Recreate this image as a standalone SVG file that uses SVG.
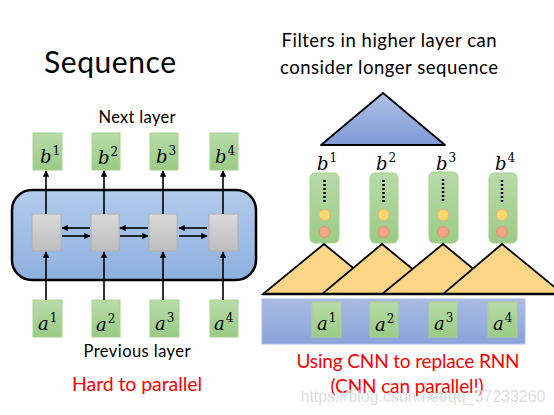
<svg xmlns="http://www.w3.org/2000/svg" width="554" height="415" viewBox="0 0 554 415">
<defs>
<linearGradient id="gGreen" x1="0" y1="0" x2="0" y2="1"><stop offset="0" stop-color="#b9dba9"/><stop offset="1" stop-color="#9acb84"/></linearGradient>
<linearGradient id="gBlue" x1="0" y1="0" x2="0" y2="1"><stop offset="0" stop-color="#b3cbec"/><stop offset="1" stop-color="#8db0e0"/></linearGradient>
<linearGradient id="gBlue2" x1="0" y1="0" x2="0" y2="1"><stop offset="0" stop-color="#aabbe3"/><stop offset="1" stop-color="#8aa3da"/></linearGradient>
<linearGradient id="gTri" x1="0" y1="0" x2="0" y2="1"><stop offset="0" stop-color="#b0c0e6"/><stop offset="1" stop-color="#7e99d6"/></linearGradient>
<linearGradient id="gGray" x1="0" y1="0" x2="0" y2="1"><stop offset="0" stop-color="#dadada"/><stop offset="1" stop-color="#bdbdbd"/></linearGradient>
<marker id="ah" viewBox="0 0 10 10" refX="9" refY="5" markerWidth="4" markerHeight="4" orient="auto"><path d="M0,0 L10,5 L0,10 z" fill="#000"/></marker>
</defs>
<style>
.t{font-family:Lato,"Open Sans","Liberation Sans",sans-serif;fill:#000}
.red{fill:#ff0000}
.m{font-family:"DejaVu Serif","Liberation Serif",serif;font-style:italic;font-size:18px}
.sup{font-family:"DejaVu Serif","Liberation Serif",serif;font-size:12px}
.gb{fill:url(#gGreen);stroke:#a9d18e;stroke-width:1}
.cell{fill:url(#gGray);stroke:#b0b0b0;stroke-width:1}
.ln{stroke:#000;stroke-width:1.6;fill:none}
.orange{fill:#fdd587;stroke:#000;stroke-width:1.8}
.yc{fill:#ffd966;stroke:#f4b183;stroke-width:1}
.oc{fill:#f4a582;stroke:#e8907a;stroke-width:1}
.dots{stroke:#000;stroke-width:2.5;stroke-dasharray:2 2}
</style>

<text class="t" x="110" y="73" font-size="30" text-anchor="middle" textLength="132">Sequence</text>
<text class="t" x="137" y="123" font-size="16.5" text-anchor="middle" textLength="77">Next layer</text>
<text class="t" x="137" y="357" font-size="16.5" text-anchor="middle" textLength="107">Previous layer</text>
<text class="t red" x="137" y="391" font-size="19.5" text-anchor="middle" textLength="130">Hard to parallel</text>

<g id="rnn-block"><rect x="12" y="190" width="244" height="90" rx="20" fill="url(#gBlue)" stroke="#000" stroke-width="2.5"/></g>

<g id="b-left">
<rect class="gb" x="33" y="133" width="29" height="37"/><text x="40" y="163"><tspan class="m">b</tspan><tspan class="sup" dx="1" dy="-8">1</tspan></text>
<rect class="gb" x="92" y="133" width="28" height="37"/><text x="98" y="164"><tspan class="m">b</tspan><tspan class="sup" dx="1" dy="-8">2</tspan></text>
<rect class="gb" x="150" y="133" width="28" height="37"/><text x="156" y="163"><tspan class="m">b</tspan><tspan class="sup" dx="1" dy="-8">3</tspan></text>
<rect class="gb" x="210" y="133" width="28" height="37"/><text x="215" y="163"><tspan class="m">b</tspan><tspan class="sup" dx="1" dy="-8">4</tspan></text>
</g>

<g id="cells">
<rect class="cell" x="32" y="214" width="29" height="37"/>
<rect class="cell" x="91" y="214" width="28" height="37"/>
<rect class="cell" x="149" y="214" width="28" height="37"/>
<rect class="cell" x="209" y="214" width="29" height="37"/>
</g>

<g id="a-left">
<rect class="gb" x="33" y="300" width="29" height="37"/><text x="38" y="330"><tspan class="m">a</tspan><tspan class="sup" dx="1" dy="-8">1</tspan></text>
<rect class="gb" x="92" y="300" width="28" height="37"/><text x="96" y="331"><tspan class="m">a</tspan><tspan class="sup" dx="1" dy="-8">2</tspan></text>
<rect class="gb" x="150" y="300" width="29" height="37"/><text x="155" y="330"><tspan class="m">a</tspan><tspan class="sup" dx="1" dy="-8">3</tspan></text>
<rect class="gb" x="210" y="300" width="28" height="37"/><text x="214" y="330"><tspan class="m">a</tspan><tspan class="sup" dx="1" dy="-8">4</tspan></text>
</g>

<g id="connectors">
<line class="ln" x1="46" y1="214" x2="46" y2="171" marker-end="url(#ah)"/>
<line class="ln" x1="104" y1="214" x2="104" y2="171" marker-end="url(#ah)"/>
<line class="ln" x1="163" y1="214" x2="163" y2="171" marker-end="url(#ah)"/>
<line class="ln" x1="223" y1="214" x2="223" y2="171" marker-end="url(#ah)"/>
<line class="ln" x1="46" y1="300" x2="46" y2="252" marker-end="url(#ah)"/>
<line class="ln" x1="104" y1="300" x2="104" y2="252" marker-end="url(#ah)"/>
<line class="ln" x1="163" y1="300" x2="163" y2="252" marker-end="url(#ah)"/>
<line class="ln" x1="223" y1="300" x2="223" y2="252" marker-end="url(#ah)"/>
<line class="ln" x1="90" y1="228" x2="62" y2="228" marker-end="url(#ah)"/>
<line class="ln" x1="62" y1="236" x2="90" y2="236" marker-end="url(#ah)"/>
<line class="ln" x1="148" y1="228" x2="120" y2="228" marker-end="url(#ah)"/>
<line class="ln" x1="120" y1="236" x2="148" y2="236" marker-end="url(#ah)"/>
<line class="ln" x1="207" y1="228" x2="179" y2="228" marker-end="url(#ah)"/>
<line class="ln" x1="179" y1="236" x2="207" y2="236" marker-end="url(#ah)"/>
</g>

<text class="t" x="389" y="47" font-size="18.5" text-anchor="middle" textLength="215">Filters in higher layer can</text>
<text class="t" x="389" y="74" font-size="18.5" text-anchor="middle" textLength="218">consider longer sequence</text>

<g id="top-filter"><polygon points="383,93 321,145 445,145" fill="url(#gTri)" stroke="#000" stroke-width="1.8" stroke-linejoin="round"/></g>

<g id="b-right">
<text x="317" y="170"><tspan class="m">b</tspan><tspan class="sup" dx="1" dy="-8">1</tspan></text>
<text x="376" y="170"><tspan class="m">b</tspan><tspan class="sup" dx="1" dy="-8">2</tspan></text>
<text x="436" y="170"><tspan class="m">b</tspan><tspan class="sup" dx="1" dy="-8">3</tspan></text>
<text x="495" y="170"><tspan class="m">b</tspan><tspan class="sup" dx="1" dy="-8">4</tspan></text>
</g>

<g id="col1"><rect class="gb" x="310" y="173" width="29" height="70" rx="5"/><line class="dots" x1="324.5" y1="180" x2="324.5" y2="202"/><circle class="yc" cx="324.5" cy="215" r="5.5"/><circle class="oc" cx="324.5" cy="232" r="5.5"/></g>
<g id="col2"><rect class="gb" x="370" y="173" width="28" height="70" rx="5"/><line class="dots" x1="383.5" y1="180" x2="383.5" y2="202"/><circle class="yc" cx="383.5" cy="215" r="5.5"/><circle class="oc" cx="383.5" cy="232" r="5.5"/></g>
<g id="col3"><rect class="gb" x="429" y="172" width="29" height="71" rx="5"/><line class="dots" x1="443" y1="179" x2="443" y2="201"/><circle class="yc" cx="443" cy="215" r="5.5"/><circle class="oc" cx="443" cy="232" r="5.5"/></g>
<g id="col4"><rect class="gb" x="489" y="173" width="28" height="70" rx="5"/><line class="dots" x1="502" y1="180" x2="502" y2="202"/><circle class="yc" cx="502" cy="215" r="5.5"/><circle class="oc" cx="502" cy="232" r="5.5"/></g>

<g id="filters">
<polygon class="orange" points="324,244 263,294 385,294"/>
<polygon class="orange" points="382,244 322,294 443,294"/>
<polygon class="orange" points="443,244 382,294 504,294"/>
<polygon class="orange" points="502,244 443,294 563,294"/>
<line x1="263" y1="294" x2="554" y2="294" stroke="#000" stroke-width="2.5"/>
</g>

<g id="input-seq">
<rect x="262" y="299" width="263" height="45" fill="url(#gBlue2)" stroke="#a9bce6" stroke-width="1"/>
<rect class="gb" x="312" y="302" width="29" height="35"/><text x="317" y="330"><tspan class="m">a</tspan><tspan class="sup" dx="1" dy="-8">1</tspan></text>
<rect class="gb" x="370" y="302" width="28" height="35"/><text x="375" y="331"><tspan class="m">a</tspan><tspan class="sup" dx="1" dy="-8">2</tspan></text>
<rect class="gb" x="429" y="302" width="28" height="35"/><text x="434" y="330"><tspan class="m">a</tspan><tspan class="sup" dx="1" dy="-8">3</tspan></text>
<rect class="gb" x="488" y="302" width="29" height="35"/><text x="493" y="330"><tspan class="m">a</tspan><tspan class="sup" dx="1" dy="-8">4</tspan></text>
</g>

<text class="t red" x="408" y="368" font-size="19" text-anchor="middle" textLength="223">Using CNN to replace RNN</text>
<text class="t red" x="407" y="393" font-size="19" text-anchor="middle" textLength="153">(CNN can parallel!)</text>
<text x="423" y="402" font-family="'Liberation Sans',Arial,sans-serif" font-size="16" text-anchor="middle" fill="#c8c8c8" fill-opacity="0.8" stroke="#ffffff" stroke-opacity="0.5" stroke-width="0.6" textLength="245">https://blog.csdn.net/qq_37233260</text>
</svg>
